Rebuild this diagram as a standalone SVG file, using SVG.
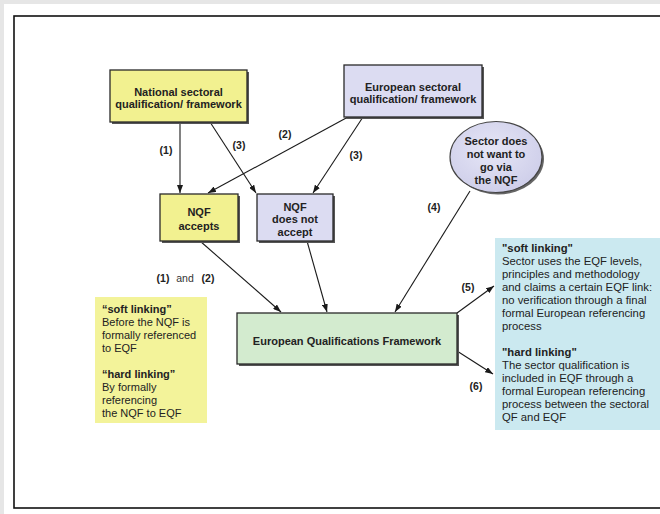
<svg xmlns="http://www.w3.org/2000/svg" width="660" height="514" viewBox="0 0 660 514">
<style>
.nt{font-family:"Liberation Sans",Arial,sans-serif;font-size:11px;font-weight:bold;fill:#222;text-anchor:middle}
.lb{font-family:"Liberation Sans",Arial,sans-serif;font-size:10.5px;font-weight:bold;fill:#222;text-anchor:middle}
.lbn{font-family:"Liberation Sans",Arial,sans-serif;font-size:10.5px;fill:#333;text-anchor:middle}
.tx{font-family:"Liberation Sans",Arial,sans-serif;font-size:11px;fill:#222}
.tr{font-size:11.3px}
.tb{font-weight:bold}
.box{stroke:#2a2a2a;stroke-width:1.3}
.sh{fill:#555}
.yel{fill:#f2f190}
.lav{fill:#dcdcf2}
.grn{fill:#d3ebcf}
.con line{stroke:#1a1a1a;stroke-width:1.1;marker-end:url(#ah)}
</style>
<defs>
<marker id="ah" markerWidth="8" markerHeight="6" refX="8" refY="3" orient="auto" markerUnits="userSpaceOnUse">
<path d="M0,0 L8,3 L0,6 z" fill="#1a1a1a"/>
</marker>
<radialGradient id="eg" cx="0.45" cy="0.4" r="0.6">
<stop offset="0" stop-color="#e6e6f6"/>
<stop offset="1" stop-color="#cfcfea"/>
</radialGradient>
</defs>
<rect x="0" y="0" width="660" height="514" fill="#e6e6e6"/>
<rect x="4" y="4" width="656" height="510" fill="#ffffff"/>
<rect x="14" y="16" width="660" height="492" fill="#ffffff" stroke="#111" stroke-width="1.6"/>

<g id="connectors" class="con">
<line x1="180" y1="122" x2="180" y2="193"/>
<line x1="210" y1="122" x2="256" y2="193"/>
<line x1="348" y1="117" x2="208" y2="193"/>
<line x1="363" y1="117" x2="313" y2="193"/>
<line x1="200" y1="241" x2="281" y2="312"/>
<line x1="307" y1="241" x2="327" y2="312"/>
<line x1="470" y1="191" x2="395" y2="312"/>
<line x1="457" y1="313" x2="494" y2="286"/>
<line x1="457" y1="351" x2="493" y2="374"/>
</g>

<g id="labels">
<text class="lb" x="166" y="154">(1)</text>
<text class="lb" x="239" y="149">(3)</text>
<text class="lb" x="285" y="138">(2)</text>
<text class="lb" x="356" y="159">(3)</text>
<text class="lb" x="434" y="211">(4)</text>
<text class="lb" x="163" y="282">(1)</text>
<text class="lbn" x="185" y="282">and</text>
<text class="lb" x="208" y="282">(2)</text>
<text class="lb" x="468" y="291">(5)</text>
<text class="lb" x="476" y="390">(6)</text>
</g>

<g id="national">
<rect class="sh" x="112" y="72" width="137" height="52"/>
<rect class="box yel" x="110" y="70" width="137" height="52"/>
<text class="nt" x="178.5" y="96">National sectoral</text>
<text class="nt" x="178.5" y="108">qualification/ framework</text>
</g>

<g id="european">
<rect class="sh" x="346" y="67" width="138" height="52"/>
<rect class="box lav" x="344" y="65" width="138" height="52"/>
<text class="nt" x="413" y="91">European sectoral</text>
<text class="nt" x="413" y="103">qualification/ framework</text>
</g>

<g id="nqf-accepts">
<rect class="sh" x="162" y="196" width="78" height="47"/>
<rect class="box yel" x="160" y="194" width="78" height="47"/>
<text class="nt" x="199" y="216">NQF</text>
<text class="nt" x="199" y="230">accepts</text>
</g>

<g id="nqf-not-accept">
<rect class="sh" x="259" y="196" width="76" height="47"/>
<rect class="box lav" x="257" y="194" width="76" height="47"/>
<text class="nt" x="295" y="211">NQF</text>
<text class="nt" x="295" y="223">does not</text>
<text class="nt" x="295" y="236">accept</text>
</g>

<g id="sector">
<ellipse cx="498" cy="159" rx="46" ry="35.5" fill="#666"/>
<ellipse cx="496" cy="157" rx="46" ry="35.5" fill="url(#eg)" stroke="#444" stroke-width="1.2"/>
<text class="nt" x="496" y="145">Sector does</text>
<text class="nt" x="496" y="158">not want to</text>
<text class="nt" x="496" y="171">go via</text>
<text class="nt" x="496" y="184">the NQF</text>
</g>

<g id="eqf">
<rect class="sh" x="239" y="315" width="220" height="51"/>
<rect class="box grn" x="237" y="313" width="220" height="51"/>
<text class="nt" x="347" y="345">European Qualifications Framework</text>
</g>

<g id="left-note">
<rect x="95" y="297" width="112" height="126" fill="#f3f39a"/>
<text class="tx" x="102" y="313"><tspan class="tb">“soft linking”</tspan><tspan x="102" dy="13">Before the NQF is</tspan><tspan x="102" dy="13">formally referenced</tspan><tspan x="102" dy="13">to EQF</tspan><tspan x="102" dy="26" class="tb">“hard linking”</tspan><tspan x="102" dy="13">By formally</tspan><tspan x="102" dy="13">referencing</tspan><tspan x="102" dy="13">the NQF to EQF</tspan></text>
</g>

<g id="right-note">
<rect x="495" y="238" width="165" height="192" fill="#cbe9f0"/>
<text class="tx tr" x="502" y="252"><tspan class="tb">"soft linking"</tspan><tspan x="502" dy="13">Sector uses the EQF levels,</tspan><tspan x="502" dy="13">principles and methodology</tspan><tspan x="502" dy="13">and claims a certain EQF link:</tspan><tspan x="502" dy="13">no verification through a final</tspan><tspan x="502" dy="13">formal European referencing</tspan><tspan x="502" dy="13">process</tspan><tspan x="502" dy="26" class="tb">"hard linking"</tspan><tspan x="502" dy="13">The sector qualification is</tspan><tspan x="502" dy="13">included in EQF through a</tspan><tspan x="502" dy="13">formal European referencing</tspan><tspan x="502" dy="13">process between the sectoral</tspan><tspan x="502" dy="13">QF and EQF</tspan></text>
</g>
</svg>
